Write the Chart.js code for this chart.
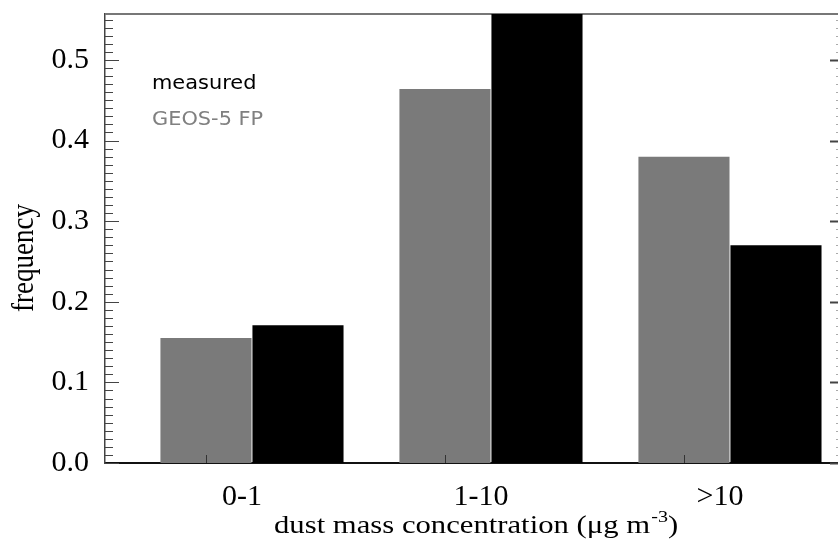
<!DOCTYPE html>
<html>
<head>
<meta charset="utf-8">
<script src="https://cdn.jsdelivr.net/npm/chart.js@4/dist/chart.umd.min.js"></script>
<style>
  html, body { margin: 0; padding: 0; background: #fff; overflow: hidden; }
  #wrap { width: 838px; height: 546px; }
</style>
</head>
<body>
<div id="wrap"><canvas id="chart"></canvas></div>
<script>
// values
const categories = ["0-1", "1-10", ">10"];
const geosValues = [0.155, 0.464, 0.380];
const measuredValues = [0.171, 0.56, 0.270];
const yTicks = [0.0, 0.1, 0.2, 0.3, 0.4, 0.5];
const yMax = 0.557;
const xTitle = "dust mass concentration (\u03bcg m";
const xTitleSup = "-3";
const yTitle = "frequency";

const GRAY = "#7a7a7a";
const SERIF = "'Liberation Serif', 'Times New Roman', serif";
const STRETCH = 1.18; // the original figure is a bit wider than tall

// x positions of groups: 1, 2, 3 ; IDL puts the tick under the grey bar
const xTickPos = categories.map((c, i) => i + 1 - 0.1925);

function toPoints(vals) {
    return vals.map((v, i) => ({ x: i + 1, y: v }));
}

// frame, minor ticks, titles and legend text
const framePlugin = {
    id: "frame",
    beforeDatasetsDraw(chart) {
        const { ctx, chartArea: a } = chart;
        ctx.save();
        ctx.strokeStyle = "#777";
        ctx.lineWidth = 2;
        ctx.beginPath();
        ctx.moveTo(a.left, a.top);
        ctx.lineTo(a.right, a.top);
        ctx.stroke();
        ctx.restore();
    },
    afterDatasetsDraw(chart) {
        const { ctx, chartArea: a, scales } = chart;
        const y = scales.y, x = scales.x;
        ctx.save();
        // left and right ticks every 0.01
        for (let i = 0; i <= Math.floor(yMax * 100); i++) {
            const py = Math.round(y.getPixelForValue(i / 100)) + 0.5;
            const major = i % 10 === 0;
            ctx.strokeStyle = "#444";
            ctx.lineWidth = 1;
            ctx.beginPath();
            ctx.moveTo(a.left, py);
            ctx.lineTo(a.left + (major ? 14 : 8), py);
            ctx.stroke();
            ctx.strokeStyle = major ? "#444" : "#aaa";
            ctx.lineWidth = major ? 2 : 1;
            ctx.beginPath();
            ctx.moveTo(a.right - (major ? 8 : 2), py);
            ctx.lineTo(a.right, py);
            ctx.stroke();
        }
        // small ticks on the bottom axis
        ctx.strokeStyle = "#333";
        ctx.lineWidth = 1;
        xTickPos.forEach(v => {
            const px = Math.round(x.getPixelForValue(v)) + 0.5;
            ctx.beginPath();
            ctx.moveTo(px, a.bottom - 8);
            ctx.lineTo(px, a.bottom);
            ctx.stroke();
        });
        ctx.restore();
    },
    afterDraw(chart) {
        const { ctx, chartArea: a } = chart;
        ctx.save();
        ctx.fillStyle = "#000";
        ctx.textBaseline = "alphabetic";

        // x title with superscript
        ctx.font = "26px " + SERIF;
        const w1 = ctx.measureText(xTitle).width;
        ctx.font = "17px " + SERIF;
        const w2 = ctx.measureText(xTitleSup).width;
        ctx.font = "26px " + SERIF;
        const w3 = ctx.measureText(")").width;
        const total = (w1 + w2 + w3) * STRETCH;
        const cx = (a.left + a.right) / 2 + 4;
        ctx.save();
        ctx.translate(cx - total / 2, 533);
        ctx.scale(STRETCH, 1);
        ctx.textAlign = "left";
        ctx.fillText(xTitle, 0, 0);
        ctx.font = "17px " + SERIF;
        ctx.fillText(xTitleSup, w1 + 1, -11);
        ctx.font = "26px " + SERIF;
        ctx.fillText(")", w1 + w2 + 1, 0);
        ctx.restore();

        // y title, rotated
        ctx.save();
        ctx.translate(33, 312);
        ctx.rotate(-Math.PI / 2);
        ctx.scale(1, STRETCH);
        ctx.font = "27px " + SERIF;
        ctx.textAlign = "left";
        ctx.fillText(yTitle, 0, 0);
        ctx.restore();

        // legend text
        const ds = chart.data.datasets.slice().reverse();
        ds.forEach((d, i) => {
            ctx.save();
            ctx.translate(152, 89 + i * 36);
            ctx.scale(1.1, 1);
            ctx.font = "19px 'DejaVu Sans', sans-serif";
            ctx.fillStyle = d.legendColor;
            ctx.textAlign = "left";
            ctx.fillText(d.label, 0, 0);
            ctx.restore();
        });
        ctx.restore();
    }
};

new Chart("chart", {
    type: "bar",
    data: {
        datasets: [{
            label: "GEOS-5 FP",
            data: toPoints(geosValues),
            backgroundColor: GRAY,
            legendColor: "#808080",
        }, {
            label: "measured",
            data: toPoints(measuredValues),
            backgroundColor: "#000",
            legendColor: "#000",
        }],
    },
    options: {
        responsive: true,
        maintainAspectRatio: false,
        animation: false,
        categoryPercentage: 0.77,
        barPercentage: 0.99,
        layout: { padding: { top: 14, right: 0, left: 0, bottom: 0 } },
        plugins: {
            legend: { display: false },
            tooltip: { enabled: false },
        },
        scales: {
            x: {
                type: "linear",
                offset: false,
                min: 0.385,
                max: 3.452,
                grid: { display: false, offset: false },
                border: { display: true, color: "#111", width: 2 },
                afterBuildTicks: s => { s.ticks = xTickPos.map(v => ({ value: v })); },
                afterFit: s => {
                    s.height = 83;
                    s.paddingLeft = 0;
                    s.paddingRight = 0;
                },
                ticks: {
                    autoSkip: false,
                    maxRotation: 0,
                    minRotation: 0,
                    labelOffset: 36,
                    padding: 8,
                    color: "#000",
                    font: { family: SERIF, size: 30 },
                    callback: (v, i) => categories[i],
                },
            },
            y: {
                min: 0,
                max: yMax,
                grid: { display: false },
                border: { display: true, color: "#444", width: 1.5 },
                afterBuildTicks: s => { s.ticks = yTicks.map(v => ({ value: v })); },
                afterFit: s => {
                    s.width = 105;
                    s.paddingTop = 0;
                    s.paddingBottom = 0;
                },
                ticks: {
                    padding: 8,
                    color: "#000",
                    font: { family: SERIF, size: 30 },
                    callback: v => v.toFixed(1),
                },
            },
        },
    },
    plugins: [framePlugin],
});
</script>
</body>
</html>
